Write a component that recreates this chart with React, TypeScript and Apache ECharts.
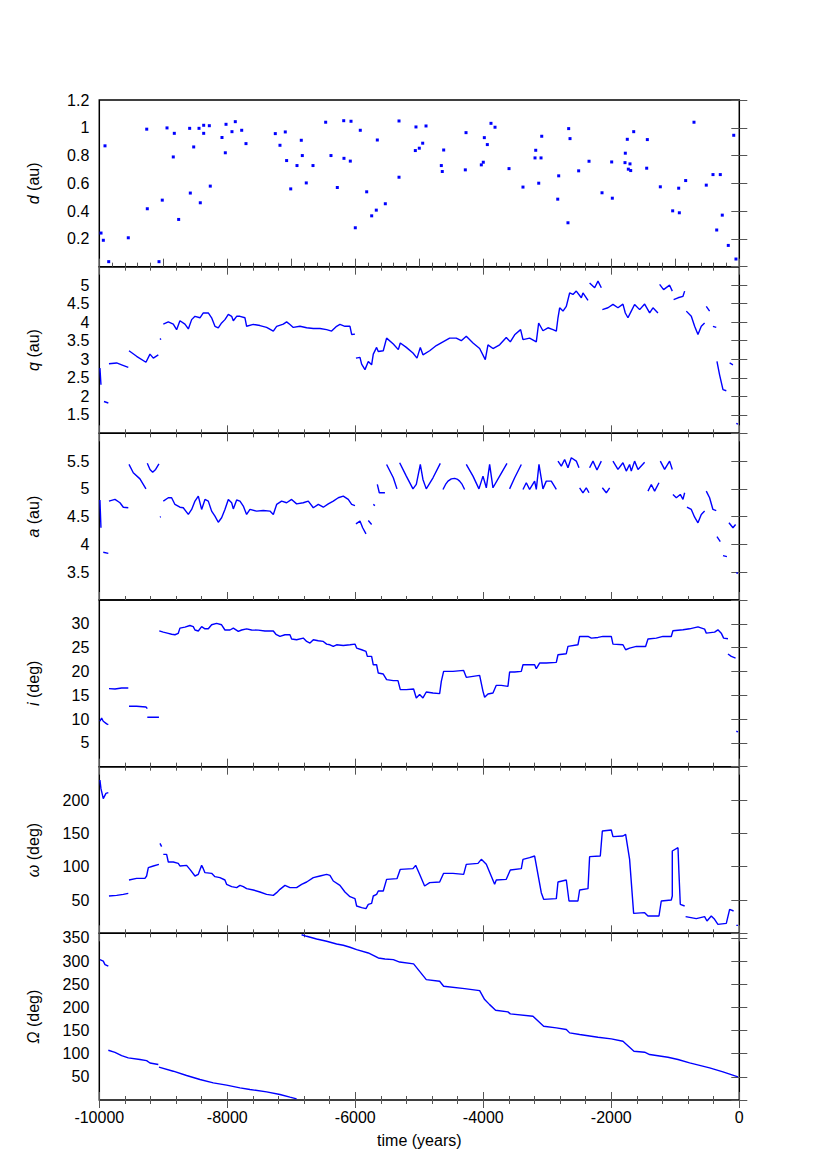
import React, { useEffect, useRef } from "react";
import * as echarts from "echarts";

const W = 827;
const H = 1170;
const FONT = "'Liberation Sans', Arial, Helvetica, sans-serif";
const BLUE = "#0000ff";

// ---- tick labels ----
const dTicks = [0.2, 0.4, 0.6, 0.8, 1, 1.2];
const qTicks = [1.5, 2, 2.5, 3, 3.5, 4, 4.5, 5];
const aTicks = [3.5, 4, 4.5, 5, 5.5];
const iTicks = [5, 10, 15, 20, 25, 30];
const wTicks = [50, 100, 150, 200];
const OTicks = [50, 100, 150, 200, 250, 300, 350];
const timeTicks = [-10000, -8000, -6000, -4000, -2000, 0];

// ---- data: [time (years), value] ----
const dPoints = [
  [-9973, 0.242], [-9937, 0.19], [-9911, 0.87], [-9853, 0.036], [-9547, 0.208], [-9259, 0.99], [-9250, 0.417],
  [-9067, 0.036], [-9016, 0.479], [-8942, 0.999], [-8844, 0.79], [-8828, 0.96], [-8760, 0.34], [-8588, 0.996],
  [-8578, 0.53], [-8525, 0.862], [-8442, 0.996], [-8422, 0.46], [-8369, 1.018], [-8369, 0.96], [-8281, 1.015],
  [-8266, 0.58], [-8083, 0.93], [-8031, 0.82], [-8020, 1.025], [-7927, 0.972], [-7875, 1.044], [-7775, 0.982],
  [-7708, 0.886], [-7250, 0.958], [-7177, 0.874], [-7094, 0.97], [-7073, 0.764], [-7009, 0.56], [-6911, 0.728],
  [-6844, 0.91], [-6828, 0.8], [-6766, 0.603], [-6661, 0.728], [-6463, 1.04], [-6380, 0.8], [-6281, 0.57],
  [-6181, 1.051], [-6177, 0.78], [-6078, 0.76], [-6067, 1.047], [-6000, 0.28], [-5922, 0.982], [-5822, 0.539],
  [-5744, 0.366], [-5672, 0.407], [-5656, 0.912], [-5531, 0.453], [-5317, 1.049], [-5317, 0.644],
  [-5062, 0.836], [-5052, 1.006], [-5000, 0.853], [-4947, 0.889], [-4895, 1.013], [-4656, 0.728], [-4641, 0.685],
  [-4619, 0.84], [-4281, 0.697], [-4270, 0.965], [-4031, 0.733], [-4000, 0.752], [-3984, 0.929], [-3937, 0.879],
  [-3880, 1.032], [-3817, 1.004], [-3598, 0.706], [-3380, 0.573], [-3192, 0.783], [-3181, 0.838], [-3134, 0.601],
  [-3098, 0.783], [-3087, 0.939], [-2837, 0.486], [-2822, 0.654], [-2677, 0.316], [-2666, 0.994], [-2645, 0.922],
  [-2510, 0.69], [-2348, 0.759], [-2145, 0.532], [-1994, 0.754], [-1984, 0.493], [-1786, 0.749], [-1781, 0.817],
  [-1750, 0.917], [-1734, 0.702], [-1708, 0.74], [-1697, 0.692], [-1650, 0.972], [-1447, 0.709], [-1437, 0.915],
  [-1234, 0.575], [-1041, 0.402], [-947, 0.565], [-937, 0.388], [-838, 0.62], [-708, 1.04], [-516, 0.587],
  [-411, 0.663], [-353, 0.264], [-297, 0.663], [-266, 0.371], [-172, 0.153], [-87, 0.946], [-52, 0.055],
];

const qSegments = [
  [[-9990, 2.76], [-9974, 2.31]],
  [[-9927, 1.86], [-9859, 1.82]],
  [[-9849, 2.88], [-9729, 2.9], [-9651, 2.85], [-9547, 2.78]],
  [[-9536, 3.23], [-9417, 3.08], [-9271, 2.92], [-9208, 3.14], [-9156, 3.03], [-9078, 3.12]],
  [[-9052, 3.56], [-9036, 3.53]],
  [[-9000, 3.95], [-8922, 4.01], [-8844, 3.95], [-8792, 3.8], [-8740, 4.04], [-8662, 3.95], [-8609, 3.82],
   [-8557, 4.07], [-8505, 4.16], [-8427, 4.12], [-8375, 4.25], [-8297, 4.25], [-8245, 4.12], [-8193, 3.89],
   [-8141, 3.85], [-8089, 3.98], [-8037, 4.07], [-7984, 4.21], [-7932, 4.16], [-7906, 4.04], [-7854, 4.16],
   [-7802, 4.16], [-7724, 4.12], [-7698, 3.89], [-7594, 3.94], [-7490, 3.91], [-7386, 3.86], [-7281, 3.76],
   [-7229, 3.89], [-7125, 3.95], [-7073, 4.01], [-7021, 3.94], [-6969, 3.86], [-6865, 3.89], [-6760, 3.85],
   [-6656, 3.83], [-6552, 3.83], [-6448, 3.8], [-6370, 3.76], [-6292, 3.89], [-6240, 3.94], [-6162, 3.89],
   [-6083, 3.89], [-6057, 3.67], [-6005, 3.68]],
  [[-5990, 3.03], [-5927, 3.05], [-5901, 2.87], [-5849, 2.72], [-5797, 2.94], [-5745, 2.85], [-5719, 3.14],
   [-5667, 3.32], [-5641, 3.21], [-5563, 3.23], [-5511, 3.57], [-5406, 3.41], [-5328, 3.26], [-5297, 3.44],
   [-5203, 3.32], [-5099, 3.17], [-5036, 3.03], [-4984, 3.32], [-4943, 3.12], [-4838, 3.23], [-4734, 3.37],
   [-4630, 3.47], [-4526, 3.57], [-4422, 3.57], [-4344, 3.5], [-4266, 3.62], [-4161, 3.44], [-4057, 3.29],
   [-3969, 2.99], [-3927, 3.39], [-3849, 3.29], [-3745, 3.39], [-3641, 3.59], [-3578, 3.47], [-3510, 3.66],
   [-3417, 3.8], [-3380, 3.53], [-3276, 3.57], [-3172, 3.47], [-3135, 3.98], [-3068, 3.77], [-2990, 3.85],
   [-2911, 3.8], [-2859, 3.76], [-2833, 4.12], [-2807, 4.39], [-2755, 4.3], [-2703, 4.43], [-2651, 4.79],
   [-2599, 4.75], [-2547, 4.84], [-2468, 4.66], [-2443, 4.79], [-2364, 4.59]],
  [[-2339, 5.06], [-2260, 4.93], [-2208, 5.11], [-2156, 4.93]],
  [[-2140, 4.34], [-2052, 4.39], [-1974, 4.48], [-1896, 4.39], [-1818, 4.49], [-1781, 4.25], [-1740, 4.12],
   [-1688, 4.3], [-1636, 4.48], [-1557, 4.34], [-1479, 4.49], [-1401, 4.25], [-1349, 4.39], [-1271, 4.25]],
  [[-1245, 5.02], [-1183, 4.88], [-1089, 5.0], [-1047, 4.84]],
  [[-1026, 4.61], [-958, 4.66], [-880, 4.7], [-854, 4.84]],
  [[-828, 4.3], [-750, 4.16], [-698, 3.89], [-646, 3.67], [-594, 3.89], [-542, 3.98]],
  [[-516, 4.43], [-464, 4.3]],
  [[-412, 3.89], [-360, 3.86]],
  [[-349, 2.94], [-308, 2.58], [-255, 2.18], [-203, 2.15]],
  [[-151, 2.9], [-99, 2.85]],
  [[-47, 1.27], [-21, 1.25]],
];

const aSegments = [
  [[-9990, 4.8], [-9974, 4.3]],
  [[-9938, 3.86], [-9859, 3.84]],
  [[-9849, 4.78], [-9755, 4.81], [-9677, 4.75], [-9625, 4.67], [-9547, 4.66]],
  [[-9536, 5.44], [-9469, 5.29], [-9365, 5.18], [-9271, 5.0]],
  [[-9250, 5.46], [-9208, 5.35], [-9166, 5.3], [-9120, 5.35], [-9068, 5.45]],
  [[-9052, 4.49], [-9040, 4.5]],
  [[-9000, 4.78], [-8922, 4.84], [-8870, 4.84], [-8818, 4.72], [-8740, 4.67], [-8688, 4.66], [-8609, 4.54],
   [-8557, 4.63], [-8505, 4.78], [-8453, 4.87], [-8401, 4.63], [-8349, 4.81], [-8297, 4.78], [-8245, 4.6],
   [-8193, 4.51], [-8141, 4.4], [-8089, 4.48], [-8037, 4.63], [-7984, 4.81], [-7932, 4.75], [-7906, 4.64],
   [-7854, 4.8], [-7802, 4.78], [-7750, 4.69], [-7698, 4.54], [-7646, 4.63], [-7542, 4.6], [-7438, 4.61],
   [-7334, 4.6], [-7281, 4.54], [-7229, 4.72], [-7151, 4.78], [-7073, 4.75], [-6995, 4.81], [-6917, 4.73],
   [-6813, 4.75], [-6735, 4.78], [-6656, 4.66], [-6578, 4.72], [-6500, 4.67], [-6422, 4.73], [-6344, 4.78],
   [-6266, 4.84], [-6188, 4.87], [-6110, 4.81], [-6057, 4.72], [-6005, 4.7]],
  [[-5990, 4.37], [-5927, 4.42], [-5885, 4.3], [-5833, 4.19]],
  [[-5797, 4.43], [-5745, 4.36]],
  [[-5719, 4.72], [-5693, 4.7]],
  [[-5656, 5.08], [-5625, 4.93], [-5537, 4.93]],
  [[-5511, 5.44], [-5406, 5.2], [-5349, 5.0]],
  [[-5307, 5.47], [-5203, 5.23], [-5099, 5.0], [-5047, 5.08], [-4984, 5.44], [-4943, 5.17], [-4891, 5.0],
   [-4786, 5.2], [-4672, 5.46]],
  [[-4630, 4.99], [-4590, 5.08], [-4552, 5.14], [-4500, 5.18], [-4448, 5.19], [-4400, 5.17], [-4370, 5.14],
   [-4330, 5.08], [-4292, 4.99]],
  [[-4266, 5.44], [-4161, 5.23], [-4068, 5.0], [-4005, 5.23], [-3953, 5.02], [-3901, 5.44], [-3849, 5.02],
   [-3745, 5.23], [-3630, 5.46]],
  [[-3589, 5.0], [-3510, 5.2], [-3406, 5.44]],
  [[-3380, 4.99], [-3328, 5.11], [-3276, 4.99], [-3198, 5.14], [-3172, 4.99], [-3130, 5.44], [-3068, 5.0],
   [-3016, 5.14], [-2938, 5.14], [-2859, 4.99]],
  [[-2833, 5.5], [-2781, 5.41], [-2729, 5.53], [-2677, 5.38], [-2625, 5.56], [-2547, 5.5], [-2505, 5.38]],
  [[-2495, 5.02], [-2443, 4.93], [-2391, 5.02], [-2349, 4.93]],
  [[-2339, 5.38], [-2286, 5.5], [-2224, 5.34], [-2156, 5.5]],
  [[-2140, 5.02], [-2078, 4.93], [-2026, 5.02]],
  [[-1974, 5.5], [-1896, 5.35], [-1818, 5.47], [-1766, 5.32], [-1714, 5.44], [-1688, 5.32], [-1636, 5.5],
   [-1583, 5.35], [-1479, 5.48]],
  [[-1427, 4.96], [-1375, 5.08], [-1323, 4.96], [-1255, 5.11]],
  [[-1234, 5.5], [-1167, 5.35], [-1089, 5.5], [-1047, 5.35]],
  [[-1037, 4.9], [-984, 4.84], [-922, 4.9], [-880, 4.81], [-854, 4.93]],
  [[-818, 4.67], [-750, 4.63], [-698, 4.49], [-646, 4.39], [-594, 4.54], [-542, 4.6]],
  [[-516, 4.96], [-464, 4.84], [-412, 4.63], [-360, 4.61]],
  [[-349, 4.14], [-297, 4.05]],
  [[-255, 3.8], [-193, 3.78]],
  [[-162, 4.39], [-99, 4.3], [-58, 4.36]],
  [[-47, 3.49], [-21, 3.48]],
];

const iSegments = [
  [[-9990, 9.54], [-9964, 10.2], [-9938, 9.54], [-9885, 8.98], [-9859, 8.84]],
  [[-9849, 16.38], [-9755, 16.31], [-9651, 16.52], [-9547, 16.52]],
  [[-9536, 12.68], [-9417, 12.68], [-9271, 12.54], [-9250, 12.19]],
  [[-9250, 10.38], [-9156, 10.38], [-9068, 10.38]],
  [[-9066, 30.1], [-9060, 30.0]],
  [[-9063, 28.5], [-9000, 28.25], [-8922, 28.0], [-8870, 27.8], [-8818, 27.7], [-8766, 28.0], [-8740, 29.1],
   [-8662, 29.3], [-8584, 29.65], [-8532, 29.4], [-8505, 28.7], [-8453, 28.5], [-8401, 29.4], [-8349, 28.95],
   [-8297, 28.95], [-8245, 29.8], [-8167, 30.1], [-8089, 29.8], [-8037, 28.7], [-7958, 28.7], [-7906, 29.1],
   [-7828, 28.4], [-7776, 28.7], [-7698, 28.95], [-7620, 28.7], [-7516, 28.67], [-7412, 28.5], [-7281, 28.5],
   [-7240, 27.8], [-7177, 27.35], [-7099, 27.7], [-7021, 27.7], [-6995, 26.8], [-6917, 26.65], [-6813, 27.0],
   [-6760, 26.3], [-6708, 25.95], [-6656, 26.65], [-6578, 26.45], [-6500, 26.3], [-6448, 25.74], [-6396, 25.6],
   [-6344, 25.25], [-6292, 25.6], [-6188, 25.46], [-6083, 25.6], [-6005, 25.74], [-5979, 24.9], [-5901, 24.55],
   [-5833, 24.2], [-5812, 23.16], [-5745, 23.16], [-5719, 21.4], [-5667, 21.4], [-5641, 19.66], [-5563, 19.45],
   [-5511, 18.27], [-5406, 18.06], [-5333, 18.06], [-5297, 16.17], [-5203, 16.17], [-5089, 16.31], [-5047, 14.43],
   [-4995, 15.13], [-4943, 14.43], [-4891, 15.68], [-4786, 15.47], [-4682, 15.33], [-4656, 17.92], [-4620, 20.01],
   [-4474, 20.01], [-4307, 20.22], [-4266, 18.76], [-4161, 18.97], [-4057, 19.18], [-4005, 15.82], [-3979, 14.57],
   [-3927, 15.27], [-3849, 15.47], [-3797, 17.08], [-3719, 17.08], [-3615, 16.87], [-3589, 19.87], [-3510, 19.87],
   [-3406, 20.01], [-3380, 21.41], [-3276, 21.41], [-3198, 21.41], [-3172, 20.57], [-3120, 21.76], [-3016, 21.76],
   [-2859, 21.9], [-2833, 23.5], [-2703, 23.72], [-2677, 25.25], [-2521, 25.6], [-2495, 27.35], [-2364, 27.35],
   [-2312, 27.0], [-2208, 27.14], [-2130, 27.35], [-2000, 27.35], [-1974, 25.74], [-1818, 25.6], [-1776, 24.55],
   [-1714, 24.9], [-1609, 25.25], [-1464, 25.25], [-1427, 26.8], [-1297, 27.0], [-1193, 27.35], [-1063, 27.35],
   [-1037, 28.53], [-880, 28.74], [-776, 28.95], [-646, 29.37], [-542, 28.88], [-516, 28.04], [-386, 28.25],
   [-334, 28.74], [-282, 28.04], [-245, 27.0], [-177, 26.86]],
  [[-177, 23.65], [-125, 23.16], [-58, 22.8]],
  [[-47, 7.44], [-21, 7.3]],
];

const wSegments = [
  [[-9990, 230], [-9974, 217], [-9938, 202], [-9896, 210], [-9859, 211]],
  [[-9849, 56], [-9729, 57], [-9625, 58.5], [-9547, 60]],
  [[-9536, 80], [-9417, 82.5], [-9287, 82.5], [-9261, 86], [-9234, 98.5], [-9156, 101], [-9068, 103.5]],
  [[-9052, 135], [-9026, 130]],
  [[-9000, 118.5], [-8948, 118.5], [-8922, 107], [-8844, 107], [-8766, 105], [-8740, 101], [-8636, 102],
   [-8584, 96], [-8505, 86], [-8453, 88.5], [-8401, 102], [-8375, 97], [-8349, 91], [-8245, 90], [-8193, 85],
   [-8115, 83.5], [-8037, 80], [-8011, 73.5], [-7932, 70], [-7854, 68.5], [-7802, 72], [-7750, 70], [-7698, 67],
   [-7594, 65], [-7490, 62], [-7386, 58.5], [-7281, 57], [-7229, 61], [-7177, 66], [-7099, 72], [-7021, 68.5],
   [-6917, 68.5], [-6839, 73.5], [-6760, 77], [-6656, 83.5], [-6552, 86], [-6448, 88.5], [-6396, 87],
   [-6344, 78.5], [-6240, 72], [-6162, 62], [-6083, 55], [-6005, 52], [-5979, 41], [-5901, 38.5], [-5833, 37],
   [-5797, 43.5], [-5745, 45], [-5719, 56], [-5667, 58.5], [-5641, 63.5], [-5563, 63.5], [-5511, 81],
   [-5349, 82], [-5297, 96], [-5099, 97], [-5057, 102], [-4995, 88.5], [-4917, 71], [-4838, 76], [-4682, 77],
   [-4620, 90], [-4474, 90], [-4307, 88.5], [-4266, 103.5], [-4083, 105], [-4031, 111], [-3953, 103.5],
   [-3823, 73.5], [-3797, 80], [-3641, 81], [-3578, 95], [-3406, 97], [-3380, 111], [-3276, 113.5],
   [-3198, 116], [-3094, 61], [-3057, 51], [-2859, 52], [-2833, 77], [-2703, 80], [-2661, 48.5], [-2521, 48.5],
   [-2495, 65], [-2364, 67], [-2339, 115], [-2172, 116], [-2140, 153.5], [-2000, 155], [-1974, 145],
   [-1818, 146], [-1776, 148.5], [-1714, 111], [-1651, 30], [-1479, 31], [-1427, 26], [-1255, 26],
   [-1219, 48.5], [-1063, 50], [-1047, 56], [-1047, 123.5], [-958, 128.5], [-943, 91], [-922, 43.5], [-854, 41]],
  [[-839, 25], [-672, 22], [-542, 25], [-505, 18.5], [-438, 26], [-386, 21], [-334, 13.5], [-203, 15],
   [-151, 36], [-89, 33.5]],
  [[-47, 12], [-21, 12]],
];

const OSegments = [
  [[-9990, 303], [-9938, 300], [-9911, 292.5], [-9859, 289]],
  [[-9859, 107.5], [-9755, 103], [-9651, 96], [-9547, 91], [-9365, 87.4], [-9261, 85], [-9208, 80], [-9078, 76.6]],
  [[-9068, 71], [-8844, 62.2], [-8636, 53], [-8427, 44.2], [-8219, 37], [-8011, 32], [-7802, 26.3], [-7646, 22.7],
   [-7386, 17.6], [-7177, 11.9], [-7021, 6.1], [-6917, 2.5]],
  [[-6839, 357], [-6760, 353.6], [-6604, 347.8], [-6448, 342.8], [-6292, 337], [-6188, 334.2], [-6083, 330],
   [-5979, 324.8], [-5797, 317.6], [-5719, 312.6], [-5641, 306.8], [-5537, 304.7], [-5406, 303.2], [-5307, 298],
   [-5089, 294], [-4891, 260], [-4682, 256.5], [-4620, 245.7], [-4292, 240.6], [-4057, 236.3], [-3979, 216.9],
   [-3901, 206], [-3808, 194], [-3615, 190.3], [-3578, 186], [-3224, 181], [-3057, 159.4], [-2859, 155.8],
   [-2703, 152.2], [-2651, 145], [-2495, 141.4], [-2208, 135.6], [-2000, 132], [-1818, 127], [-1646, 105.4],
   [-1479, 103.2], [-1401, 98.2], [-1115, 92.4], [-958, 87.4], [-776, 80.2], [-464, 69.4], [-255, 60.8],
   [-21, 50]],
];

function joinSegments(segs: number[][][]) {
  const out: (number | null)[][] = [];
  segs.forEach((s, k) => {
    if (k > 0) out.push([s[0][0], null]);
    s.forEach((p) => out.push(p));
  });
  return out;
}

const panels = [
  { sym: "d", unit: "au", kind: "scatter", data: dPoints, min: 0, max: 1.2, interval: 0.2, ticks: dTicks, xInt: 1000, top: false },
  { sym: "q", unit: "au", kind: "line", data: joinSegments(qSegments), min: 1, max: 5.5, interval: 0.5, ticks: qTicks, xInt: 2000, top: true },
  { sym: "a", unit: "au", kind: "line", data: joinSegments(aSegments), min: 3, max: 6, interval: 0.5, ticks: aTicks, xInt: 2000, top: true },
  { sym: "i", unit: "deg", kind: "line", data: joinSegments(iSegments), min: 0, max: 35, interval: 5, ticks: iTicks, xInt: 2000, top: true },
  { sym: "ω", unit: "deg", kind: "line", data: joinSegments(wSegments), min: 0, max: 250, interval: 50, ticks: wTicks, xInt: 2000, top: true },
  { sym: "Ω", unit: "deg", kind: "line", data: joinSegments(OSegments), min: 0, max: 360, interval: 50, ticks: OTicks, xInt: 2000, top: true },
];

const LEFT = 99.3;
const WIDTH = 640;
const TOP = 100;
const PH = 1000 / 6;

const tickStyle = { color: "#555", width: 1 };

function buildOption() {
  const grid: any[] = [];
  const xAxis: any[] = [];
  const yAxis: any[] = [];
  const series: any[] = [];
  const n = panels.length;

  panels.forEach((p, k) => {
    grid.push({
      left: LEFT,
      top: TOP + k * PH,
      width: WIDTH,
      height: PH,
      show: true,
      borderColor: "#000",
      borderWidth: 1.5,
      backgroundColor: "transparent",
      containLabel: false,
      outerBoundsMode: "none",
    });
    const last = k === n - 1;
    const xBase = {
      type: "value",
      gridIndex: k,
      min: -10000,
      max: 0,
      interval: p.xInt,
      axisLine: { show: false },
      splitLine: { show: false },
      axisTick: { show: true, inside: true, length: 8, lineStyle: tickStyle },
      minorTick: { show: true, splitNumber: 5, length: 4, lineStyle: tickStyle },
      minorSplitLine: { show: false },
    };
    const xb = xAxis.length;
    xAxis.push({
      ...xBase,
      position: "bottom",
      axisLabel: {
        show: last,
        margin: 9,
        fontFamily: FONT,
        fontSize: 16,
        color: "#000",
        formatter: (v: number) => (timeTicks.indexOf(v) >= 0 ? String(v) : ""),
      },
      name: last ? "time (years)" : "",
      nameLocation: "middle",
      nameGap: 32,
      nameTextStyle: { fontFamily: FONT, fontSize: 16, color: "#000" },
    });
    if (p.top) {
      xAxis.push({ ...xBase, position: "top", axisLabel: { show: false } });
    }
    const yBase = {
      type: "value",
      gridIndex: k,
      min: p.min,
      max: p.max,
      interval: p.interval,
      axisLine: { show: false },
      splitLine: { show: false },
      axisTick: { show: true, inside: true, length: 8, lineStyle: tickStyle },
    };
    const yb = yAxis.length;
    const ticks = p.ticks;
    yAxis.push({
      ...yBase,
      position: "left",
      axisLabel: {
        show: true,
        margin: 10,
        fontFamily: FONT,
        fontSize: 16,
        color: "#000",
        showMinLabel: true,
        showMaxLabel: true,
        formatter: (v: number) =>
          ticks.some((t) => Math.abs(t - v) < 1e-6) ? String(Number(v.toFixed(3))) : "",
      },
      name: `{it|${p.sym}} (${p.unit})`,
      nameLocation: "middle",
      nameGap: 58,
      nameRotate: 90,
      nameTextStyle: {
        fontFamily: FONT,
        fontSize: 16,
        color: "#000",
        rich: { it: { fontFamily: FONT, fontSize: 16, fontStyle: "italic", color: "#000" } },
      },
    });
    yAxis.push({ ...yBase, position: "right", axisLabel: { show: false } });

    if (p.kind === "scatter") {
      series.push({
        type: "scatter",
        xAxisIndex: xb,
        yAxisIndex: yb,
        data: p.data,
        symbol: "rect",
        symbolSize: 3,
        itemStyle: { color: BLUE, opacity: 1 },
        silent: true,
      });
    } else {
      series.push({
        type: "line",
        xAxisIndex: xb,
        yAxisIndex: yb,
        data: p.data,
        showSymbol: false,
        connectNulls: false,
        lineStyle: { color: BLUE, width: 1.4 },
        silent: true,
        clip: true,
      });
    }
  });

  return {
    animation: false,
    backgroundColor: "#fff",
    textStyle: { fontFamily: FONT },
    grid,
    xAxis,
    yAxis,
    series,
  };
}

export default function App() {
  const ref = useRef<HTMLDivElement | null>(null);
  useEffect(() => {
    document.body.style.margin = "0";
    if (!ref.current) return;
    const chart = echarts.init(ref.current, null, { renderer: "svg", width: W, height: H });
    chart.setOption(buildOption() as any);
    return () => chart.dispose();
  }, []);
  return <div ref={ref} style={{ width: W, height: H }} />;
}
